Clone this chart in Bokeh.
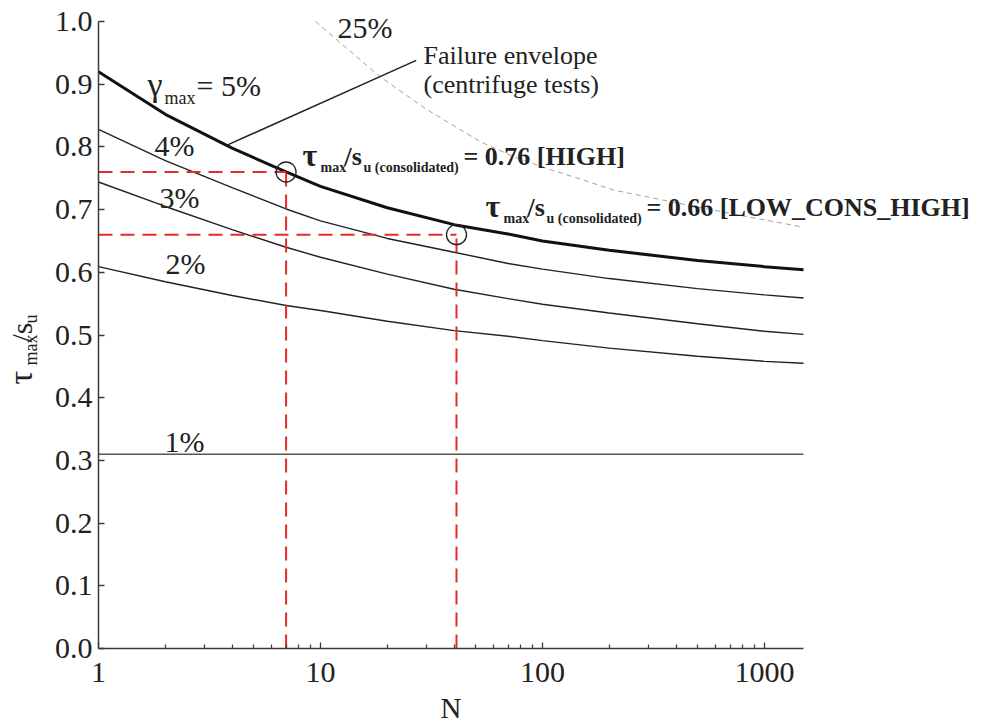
import numpy as np
from bokeh.plotting import figure
from bokeh.models import Label, FixedTicker, NumeralTickFormatter, Range1d
from bokeh.embed import file_html
from bokeh.resources import INLINE

# ---------------- data ----------------
N = [1, 2, 4, 7, 10, 20, 40, 70, 100, 200, 500, 1000, 1500]
gamma5 = [0.920, 0.852, 0.798, 0.760, 0.737, 0.703, 0.676, 0.661, 0.650, 0.635, 0.619, 0.609, 0.604]
gamma4 = [0.828, 0.778, 0.735, 0.701, 0.682, 0.654, 0.632, 0.614, 0.605, 0.590, 0.574, 0.564, 0.559]
gamma3 = [0.744, 0.705, 0.668, 0.640, 0.624, 0.597, 0.573, 0.558, 0.549, 0.535, 0.518, 0.506, 0.501]
gamma2 = [0.609, 0.585, 0.563, 0.547, 0.539, 0.522, 0.507, 0.498, 0.491, 0.479, 0.466, 0.458, 0.455]
N1 = [1, 1500]
gamma1 = [0.31, 0.31]
N25 = [9.5, 12.1, 18.7, 30, 52.7, 74.5, 100, 150, 210, 300, 470, 800, 1500]
gamma25 = [1.0, 0.968, 0.911, 0.860, 0.808, 0.784, 0.768, 0.748, 0.731, 0.720, 0.706, 0.690, 0.672]
curve_labels = ["4%", "3%", "2%", "1%", "25%"]

pts_N = [7, 41]
pts_ratio = [0.76, 0.66]
pts_text = ["= 0.76 [HIGH]", "= 0.66 [LOW_CONS_HIGH]"]

pointer_N = [3.75, 27.0]
pointer_y = [0.802, 0.938]

x_ticks = [1, 10, 100, 1000]
x_minor = [2, 3, 4, 5, 6, 7, 8, 9, 20, 30, 40, 50, 60, 70, 80, 90,
           200, 300, 400, 500, 600, 700, 800, 900]
y_ticks = [0.0, 0.1, 0.2, 0.3, 0.4, 0.5, 0.6, 0.7, 0.8, 0.9, 1.0]

XMIN, XMAX, YMIN, YMAX = 1, 1500, 0.0, 1.0

# ---------------- layout ----------------
W, H = 982, 725
AX_L, AX_R, AX_T, AX_B = 98, 803, 21, 648   # pixel box of the axes
DEC = (AX_R - AX_L) / (np.log10(XMAX) - np.log10(XMIN))

def dx(px):
    return 10 ** ((px - AX_L) / DEC + np.log10(XMIN))

def dy(py):
    return YMIN + (AX_B - py) / (AX_B - AX_T) * (YMAX - YMIN)

FONT = "Liberation Serif"
TXT = "#222222"

p = figure(width=W, height=H, x_axis_type="log",
           x_range=Range1d(dx(0), dx(W)), y_range=Range1d(dy(H), dy(0)),
           output_backend="svg", toolbar_location=None, title=None,
           min_border=0)
p.background_fill_color = "white"
p.border_fill_color = "white"
p.outline_line_color = None
p.xgrid.visible = False
p.ygrid.visible = False

p.xaxis.ticker = FixedTicker(ticks=x_ticks, minor_ticks=x_minor)
p.yaxis.ticker = FixedTicker(ticks=y_ticks)
p.xaxis.formatter = NumeralTickFormatter(format="0")
p.yaxis.formatter = NumeralTickFormatter(format="0.0")
p.xaxis.fixed_location = YMIN
p.yaxis.fixed_location = XMIN
p.xaxis.bounds = (XMIN, XMAX)
p.yaxis.bounds = (YMIN, YMAX)

for ax in (p.xaxis[0], p.yaxis[0]):
    ax.axis_line_color = "#3a3a3a"
    ax.axis_line_width = 1.5
    ax.major_tick_line_color = "#3a3a3a"
    ax.major_tick_line_width = 1.3
    ax.minor_tick_line_color = "#3a3a3a"
    ax.minor_tick_line_width = 1.2
    ax.major_tick_in = 6
    ax.major_tick_out = 0
    ax.minor_tick_in = 4
    ax.minor_tick_out = 0
    ax.major_label_text_font = FONT
    ax.major_label_text_font_size = "30px"
    ax.major_label_text_color = TXT
p.yaxis.minor_tick_line_color = None
p.xaxis.major_label_standoff = 14
p.yaxis.major_label_standoff = 6
p.xaxis.axis_label = "N"
p.xaxis.axis_label_text_font = FONT
p.xaxis.axis_label_text_font_size = "29px"
p.xaxis.axis_label_text_font_style = "normal"
p.xaxis.axis_label_text_color = TXT
p.xaxis.axis_label_standoff = 7

# ---------------- curves ----------------
p.line(N25, gamma25, line_color="#a0a0a0", line_width=1, line_dash="5 4")
p.line(N1, gamma1, line_color="#555555", line_width=1.5)
p.line(N, gamma2, line_color="#222222", line_width=1.4)
p.line(N, gamma3, line_color="#222222", line_width=1.4)
p.line(N, gamma4, line_color="#222222", line_width=1.4)
p.line(N, gamma5, line_color="#111111", line_width=3)
p.line(pointer_N, pointer_y, line_color="#222222", line_width=1.5)

# red dashed guides
p.segment(x0=[XMIN] * len(pts_N), y0=pts_ratio, x1=pts_N, y1=pts_ratio,
          line_color="#e52b2b", line_width=2, line_dash="14 8")
p.segment(x0=pts_N, y0=[YMIN] * len(pts_N), x1=pts_N, y1=pts_ratio,
          line_color="#e52b2b", line_width=2, line_dash="14 8")
p.scatter(pts_N, pts_ratio, marker="circle", size=20, fill_color=None,
          line_color="#222222", line_width=1.3)

# ---------------- texts ----------------
MID = 0.3375  # baseline sits this many em below the middle of the text box

def lab(px, py, text, size=30, bold=False, angle=0):
    """px, py: pixel position of the start of the text on its baseline."""
    if angle == 0:
        ax_, ay_ = px, py - MID * size
    else:
        ax_, ay_ = px - MID * size, py
    p.add_layout(Label(x=dx(ax_), y=dy(ay_), text=text, text_font=FONT,
                       text_font_size=f"{size}px",
                       text_font_style="bold" if bold else "normal",
                       text_color=TXT, text_align="left",
                       text_baseline="middle",
                       angle=angle, angle_units="deg"))

# gamma_max = 5%
lab(147, 95, "γ", size=34)
lab(164, 104, "max", size=18)
lab(196, 95, "= 5%")
# other strain levels
lab(154, 155, curve_labels[0])
lab(159, 207, curve_labels[1])
lab(165, 273, curve_labels[2])
lab(164, 451, curve_labels[3])
lab(337, 37, curve_labels[4])
# failure envelope
lab(423, 64, "Failure envelope", size=26)
lab(423, 93, "(centrifuge tests)", size=26)

# annotations
for (x0, yb), val in zip([(302, 165), (485, 216)], pts_text):
    lab(x0, yb, "τ", size=32, bold=True)
    lab(x0 + 18, yb + 7, "max", size=14, bold=True)
    lab(x0 + 42, yb, "/s", size=26, bold=True)
    lab(x0 + 61, yb + 7, "u (consolidated)", size=14, bold=True)
    lab(x0 + 161, yb, val, size=26, bold=True)

# y axis label (rotated)
lab(31, 384, "τ", size=34, angle=90)
lab(37, 365, "max", size=18, angle=90)
lab(31, 342, "/s", angle=90)
lab(37, 323, "u", size=18, angle=90)

open("out.html", "w").write(file_html(p, INLINE))
